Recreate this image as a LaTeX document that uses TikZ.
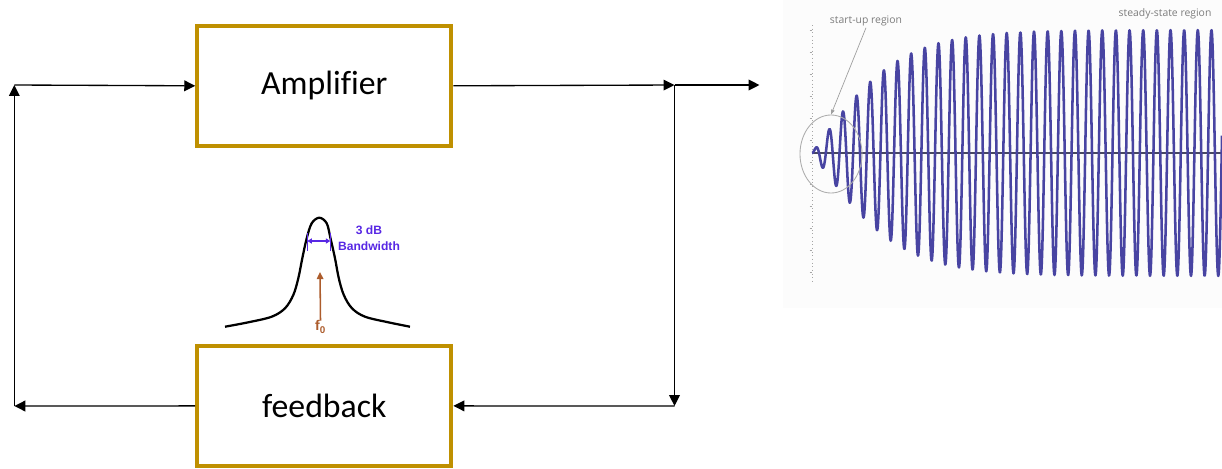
\documentclass[tikz,border=0pt]{standalone}
\usepackage{fontspec}
\setmainfont{Carlito}[Ligatures=NoCommon]
\newfontfamily\arialfont{Liberation Sans}
\newfontfamily\plotfont{Open Sans}
\usetikzlibrary{arrows.meta,shapes.geometric}
\definecolor{boxgold}{RGB}{191,144,0}
\definecolor{bwblue}{RGB}{88,40,228}
\definecolor{fbrown}{RGB}{172,92,44}
\definecolor{wavecol}{RGB}{72,68,162}
\definecolor{axiscol}{RGB}{72,72,96}
\definecolor{notegray}{RGB}{125,125,125}
\begin{document}
\begin{tikzpicture}[x=0.025cm,y=-0.025cm,
  blockbox/.style={draw=boxgold,line width=2.9pt,minimum width=6.35cm,minimum height=3.01cm,inner sep=0pt,font=\fontsize{24}{29}\selectfont},
  sig/.style={line width=0.95pt,-{Triangle[length=7.8pt,width=7.6pt]}},
  note/.style={font=\plotfont\fontsize{7.4}{9}\selectfont,text=notegray,inner sep=1pt}]
\useasboundingbox (0,0) rectangle (1222,468);
% loop blocks
\node[blockbox] (amp) at (324.3,85.8) {Amplifier};
\node[blockbox] (fb) at (324.3,405.9) {feedback};
\coordinate (tl) at (14.3,85);
\coordinate (tr) at (674.5,85);
\coordinate (br) at (674.5,406);
\coordinate (bl) at (14.3,406);
\coordinate (out) at (759.5,85);
\draw[sig] (amp.east) -- (tr);
\draw[sig] (tr) -- (out);
\draw[sig] (tr) -- (br);
\draw[sig] (br) -- (fb.east);
\draw[sig] (fb.west) -- (bl);
\draw[sig] (bl) -- (tl);
\draw[sig] (tl) -- (amp.west);
% resonance curve
\draw[line width=1.6pt,line join=round] plot[smooth,tension=0.55] coordinates {
  (225,326.7) (248.3,322.3) (271.7,316.7) (285,308.3) (293.3,295) (298.3,278.3)
  (302.3,258.3) (306.7,238.3) (311.7,223.3) (319.3,217.7) (326.7,223.3) (330.5,238.3)
  (335,258.3) (338.8,278.3) (343.8,295) (352,308.3) (365,316.7) (388.3,322.3) (410,326.7)};
\coordinate (bwl) at (307.3,241);
\coordinate (bwr) at (330.3,241);
\draw[bwblue,line width=1pt] (307.3,232.5) -- (307.3,250.5) (330.3,232.5) -- (330.3,250.5);
\draw[bwblue,line width=0.9pt,{Triangle[length=3.2pt,width=3.6pt]}-{Triangle[length=3.2pt,width=3.6pt]}] (bwl) -- (bwr);
\node[text=bwblue,font=\arialfont\bfseries\fontsize{8.6}{11.4}\selectfont,align=center,inner sep=0pt] (bwlabel) at (369,238) {3 dB\\Bandwidth};
\node[text=fbrown,font=\arialfont\bfseries\fontsize{10}{11}\selectfont,inner sep=0pt] (fzero) at (320.5,327) {f\textsubscript{0}};
\coordinate (ftip) at (320,272);
\draw[fbrown,line width=1.1pt,-{Triangle[length=5pt,width=4.6pt]}] (fzero.north) -- (ftip);
% start-up waveform
\fill[gray!2] (783,0) rectangle (1222,308);
\draw[gray!70,line width=0.6pt,dotted] (812,25) -- (812,283);
\foreach \t in {30,52,...,282} \draw[gray!70,line width=0.4pt] (809.5,\t) -- (812,\t);
\draw[axiscol,line width=1pt] (812,153) -- (1222,153);
\draw[wavecol,line width=1.8pt,line join=round] plot[domain=812:1222,samples=1100]
  (\x,{153-123*tanh((\x-812)/88)*cos(26.3736*(\x-1006.7))});
\node[draw=gray!65,line width=0.6pt,ellipse,minimum width=1.55cm,minimum height=1.95cm,inner sep=0pt] (startcirc) at (831,154) {};
\node[note] (startlbl) at (866,21) {start-up region};
\node[note] (steadylbl) at (1165,14) {steady-state region};
\draw[gray!75,line width=0.5pt,-{Triangle[length=3.5pt,width=2.6pt]}] (startlbl.south) -- (startcirc.north);
\end{tikzpicture}
\end{document}
